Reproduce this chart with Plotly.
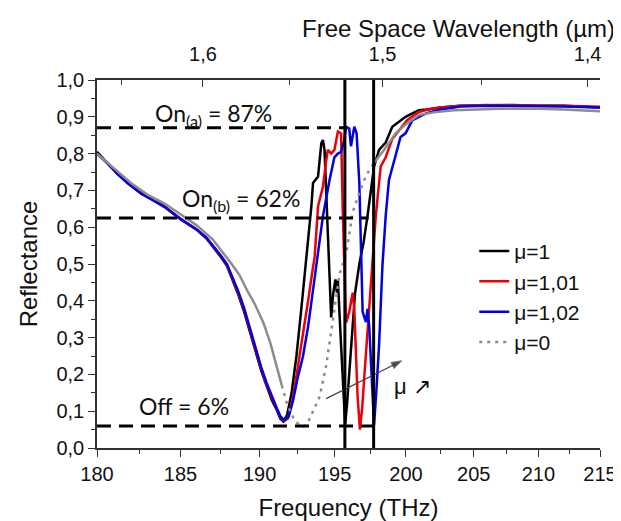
import numpy as np
import plotly.graph_objects as go

# ---------------- data (frequency in THz, reflectance) ----------------
f_mu1 = [180.0, 180.6, 181.2, 181.8, 182.6, 183.3, 184.0, 185.0, 186.0, 186.6, 187.0, 187.5, 187.9, 188.2,
         188.6, 189.0, 189.4, 189.8, 190.1, 190.46, 190.8, 191.1, 191.35, 191.55, 191.8, 192.1, 192.42, 192.75,
         193.0, 193.2, 193.42, 193.53, 193.87, 194.09, 194.2, 194.31, 194.42, 194.53, 194.65, 194.76, 194.9,
         195.05, 195.15, 195.22, 195.44, 195.6, 195.72, 195.85, 196.1, 196.4, 196.7, 197.0, 197.27, 197.5,
         197.73, 198.08, 198.55, 199.02, 199.5, 199.97, 200.5, 200.93, 201.5, 202.5, 204, 206, 208, 210, 212, 215]
r_mu1 = [0.805, 0.775, 0.745, 0.72, 0.692, 0.675, 0.656, 0.622, 0.593, 0.57, 0.548, 0.52, 0.495, 0.462,
         0.42, 0.37, 0.31, 0.25, 0.21, 0.168, 0.13, 0.105, 0.08, 0.072, 0.09, 0.15, 0.25, 0.38,
         0.48, 0.56, 0.657, 0.72, 0.738, 0.828, 0.837, 0.81, 0.70, 0.60, 0.45, 0.355, 0.42,
         0.458, 0.422, 0.455, 0.278, 0.13, 0.065, 0.12, 0.27, 0.42, 0.50, 0.56, 0.63, 0.70,
         0.765, 0.81, 0.83, 0.873, 0.886, 0.90, 0.91, 0.918, 0.92, 0.925, 0.93, 0.932, 0.932, 0.93, 0.93, 0.925]

f_mu101 = [180.0, 180.6, 181.2, 181.8, 182.6, 183.3, 184.0, 185.0, 186.0, 186.6, 187.0, 187.5, 187.9, 188.2,
           188.6, 189.0, 189.4, 189.8, 190.1, 190.46, 190.8, 191.1, 191.35, 191.6, 191.85, 192.15, 192.4, 192.64,
           192.9, 193.2, 193.45, 193.64, 193.87, 194.2, 194.42, 194.53, 194.76, 194.98, 195.22, 195.44, 195.55,
           195.7, 195.78, 196.0, 196.24, 196.35, 196.58, 196.74, 196.9, 197.04, 197.39, 197.67, 197.85, 198.2,
           198.55, 199.02, 199.61, 200.08, 200.93, 201.6, 202.5, 204, 206, 208, 210, 212, 215]
r_mu101 = [0.80, 0.775, 0.746, 0.721, 0.693, 0.676, 0.657, 0.623, 0.594, 0.571, 0.55, 0.522, 0.497, 0.465,
           0.424, 0.375, 0.315, 0.255, 0.215, 0.172, 0.135, 0.108, 0.085, 0.073, 0.08, 0.13, 0.19, 0.25,
           0.32, 0.40, 0.47, 0.52, 0.657, 0.71, 0.78, 0.81, 0.80, 0.81, 0.86, 0.855, 0.65,
           0.45, 0.34, 0.37, 0.422, 0.378, 0.14, 0.05, 0.11, 0.19, 0.37, 0.53, 0.63, 0.765,
           0.79, 0.84, 0.868, 0.891, 0.913, 0.92, 0.925, 0.93, 0.932, 0.932, 0.93, 0.93, 0.927]

f_mu102 = [180.0, 180.6, 181.2, 181.8, 182.6, 183.3, 184.0, 185.0, 186.0, 186.6, 187.0, 187.5, 187.9, 188.2,
           188.6, 189.0, 189.4, 189.8, 190.1, 190.46, 190.8, 191.1, 191.35, 191.6, 191.9, 192.2, 192.5, 192.86,
           193.2, 193.5, 193.75, 193.87, 194.2, 194.65, 194.98, 195.22, 195.44, 195.66, 195.78, 196.0, 196.12,
           196.35, 196.51, 196.7, 196.85, 196.93, 197.16, 197.27, 197.39, 197.56, 197.73, 197.9, 198.08, 198.32,
           198.55, 198.78, 199.14, 199.61, 199.97, 200.45, 200.93, 201.5, 202.5, 204, 206, 208, 210, 212, 215]
r_mu102 = [0.80, 0.774, 0.745, 0.72, 0.692, 0.675, 0.656, 0.622, 0.594, 0.572, 0.551, 0.524, 0.5, 0.468,
           0.428, 0.38, 0.32, 0.26, 0.22, 0.176, 0.138, 0.11, 0.087, 0.075, 0.085, 0.13, 0.19, 0.25,
           0.33, 0.42, 0.49, 0.52, 0.63, 0.728, 0.79, 0.80, 0.805, 0.837, 0.873, 0.868, 0.82,
           0.873, 0.855, 0.72, 0.50, 0.37, 0.342, 0.378, 0.33, 0.19, 0.062, 0.16, 0.278, 0.495,
           0.63, 0.728, 0.78, 0.845, 0.855, 0.89, 0.90, 0.91, 0.92, 0.928, 0.93, 0.93, 0.93, 0.928, 0.925]

f_mu0 = [180, 181, 182, 183, 184, 185, 186, 187, 187.5, 188.2, 188.7, 189.17, 189.7, 190.25, 190.7, 191.11,
         191.45, 191.76, 192.1, 192.42, 192.65, 192.9, 193.2, 193.53, 193.98, 194.42, 194.53, 194.87, 195.1,
         195.32, 195.55, 195.8, 196.0, 196.23, 196.58, 197.16, 197.73, 198.43, 199.26, 200.0, 200.93, 202,
         203.5, 205, 207, 210, 212, 215]
r_mu0 = [0.80, 0.76, 0.72, 0.688, 0.665, 0.635, 0.605, 0.567, 0.54, 0.50, 0.47, 0.43, 0.39, 0.34, 0.285, 0.224,
         0.17, 0.125, 0.09, 0.07, 0.062, 0.058, 0.07, 0.10, 0.14, 0.224, 0.252, 0.345, 0.41,
         0.47, 0.50, 0.53, 0.58, 0.64, 0.68, 0.74, 0.775, 0.81, 0.855, 0.88, 0.905, 0.912,
         0.918, 0.92, 0.922, 0.922, 0.92, 0.915]

freq_ticks = [180, 185, 190, 195, 200, 205, 210, 215]
freq_minor = [182.5, 187.5, 192.5, 197.5, 202.5, 207.5, 212.5]
wavelength_ticks = [1.6, 1.5, 1.4]
wavelength_minor = [1.65, 1.55, 1.45]
switch_freqs = [195.7, 197.7]               # vertical switching markers (THz)
levels = [0.87, 0.625, 0.06]                # On(a), On(b), Off
level_ends = [195.7, 197.35, 197.7]         # THz where each dashed level stops
level_labels = ["On<sub>(a)</sub> = 87%", "On<sub>(b)</sub> = 62%", "Off = 6%"]
label_freq = [187.05, 188.8, 185.2]
label_refl = [0.905, 0.675, 0.114]
arrow_freq = [194.42, 199.7]
arrow_refl = [0.134, 0.237]

C = 299.792458  # um*THz; bottom axis is drawn linear in free-space wavelength


def lam(f):
    return C / np.asarray(f, dtype=float)


fig = go.Figure()
fig.add_trace(go.Scatter(x=lam(f_mu1), y=r_mu1, mode="lines", name="μ=1",
                         line=dict(color="black", width=2.5)))
fig.add_trace(go.Scatter(x=lam(f_mu101), y=r_mu101, mode="lines", name="μ=1,01",
                         line=dict(color="#e8000b", width=2.5)))
fig.add_trace(go.Scatter(x=lam(f_mu102), y=r_mu102, mode="lines", name="μ=1,02",
                         line=dict(color="#0000e0", width=2.5)))

f0 = np.array(f_mu0)
r0 = np.array(r_mu0)
m_left = f0 <= 191.45
m_mid = (f0 >= 191.45) & (f0 <= 197.73)
m_right = f0 >= 197.73
for m in (m_left, m_right):
    fig.add_trace(go.Scatter(x=lam(f0[m]), y=r0[m], mode="lines", showlegend=False,
                             line=dict(color="#8c8c8c", width=2.5)))
fig.add_trace(go.Scatter(x=lam(f0[m_mid]), y=r0[m_mid], mode="lines", name="μ=0",
                         line=dict(color="#8c8c8c", width=2.5, dash="3px,5px")))

# arrow showing increasing mu
fig.add_trace(go.Scatter(x=lam(arrow_freq), y=arrow_refl, mode="lines+markers", showlegend=False,
                         hoverinfo="skip",
                         line=dict(color="#444", width=1.3),
                         marker=dict(symbol="arrow", size=[0, 11], angleref="previous", color="black")))

# invisible trace for the top (wavelength label) axis, linear in frequency
fig.add_trace(go.Scatter(x=[180, 215], y=[0, 0], xaxis="x2", mode="lines",
                         line=dict(width=0), showlegend=False, hoverinfo="skip"))

shapes = []
for fx in switch_freqs:
    shapes.append(dict(type="line", xref="x", yref="y", x0=C / fx, x1=C / fx, y0=0.0, y1=1.0,
                       line=dict(color="black", width=3)))
for lv, xe in zip(levels, level_ends):
    shapes.append(dict(type="line", xref="x", yref="y", x0=C / 180, x1=C / xe, y0=lv, y1=lv,
                       line=dict(color="black", width=3, dash="14px,8px")))

annotations = []
for txt, fx, ry in zip(level_labels, label_freq, label_refl):
    annotations.append(dict(x=C / fx, y=ry, xref="x", yref="y", text=txt, showarrow=False,
                            font=dict(family="Lato", size=23, color="#111")))
annotations.append(dict(x=C / 199.0, y=0.167, xref="x", yref="y", text="μ ↗", showarrow=False,
                        xanchor="left", font=dict(family="Liberation Sans", size=22, color="#111")))
annotations.append(dict(x=1.0, y=1.0, xref="paper", yref="paper", xanchor="right", yanchor="middle",
                        yshift=52, xshift=17, text="Free Space Wavelength (µm)", showarrow=False,
                        font=dict(family="Liberation Sans", size=24, color="#111")))

fig.update_layout(
    width=621, height=521,
    margin=dict(l=89, r=25, t=72, b=78),
    paper_bgcolor="white", plot_bgcolor="white",
    separators=",.",
    font=dict(family="Liberation Sans", size=20, color="#111"),
    shapes=shapes, annotations=annotations,
    showlegend=True,
    legend=dict(x=0.75, y=0.59, xanchor="left", yanchor="top", bgcolor="rgba(0,0,0,0)",
                font=dict(size=21, family="Liberation Sans"), tracegroupgap=0),
    xaxis=dict(range=[C / 180, C / 215], tickmode="array",
               tickvals=[C / f for f in freq_ticks], ticktext=[str(f) for f in freq_ticks],
               ticks="outside", ticklen=7, tickwidth=1.2, tickcolor="#333",
               showline=True, linecolor="#333", linewidth=1.5, showgrid=False, zeroline=False,
               minor=dict(tickmode="array", tickvals=[C / f for f in freq_minor],
                          ticks="outside", ticklen=4, tickcolor="#333"),
               title=dict(text="Frequency (THz)", font=dict(size=24), standoff=15)),
    xaxis2=dict(range=[180, 215], overlaying="x", side="top", anchor="y", tickmode="array",
                tickvals=[C / w for w in wavelength_ticks],
                ticktext=[str(w).replace(".", ",") for w in wavelength_ticks],
                ticks="inside", ticklen=7, tickwidth=1.2, tickcolor="#333", ticklabelstandoff=9,
                minor=dict(tickmode="array", tickvals=[C / w for w in wavelength_minor],
                           ticks="inside", ticklen=5, tickcolor="#333"),
                showline=True, linecolor="#333", linewidth=1.5, showgrid=False, zeroline=False),
    yaxis=dict(range=[0, 1.0], dtick=0.1, tick0=0, tickformat=".1f", ticks="outside", ticklen=7,
               tickwidth=1.2, tickcolor="#333",
               showline=True, linecolor="#333", linewidth=1.5, showgrid=False, zeroline=False,
               minor=dict(dtick=0.05, ticks="outside", ticklen=4, tickcolor="#333"),
               title=dict(text="Reflectance", font=dict(size=24), standoff=12)),
)

fig.write_html("out.html")
